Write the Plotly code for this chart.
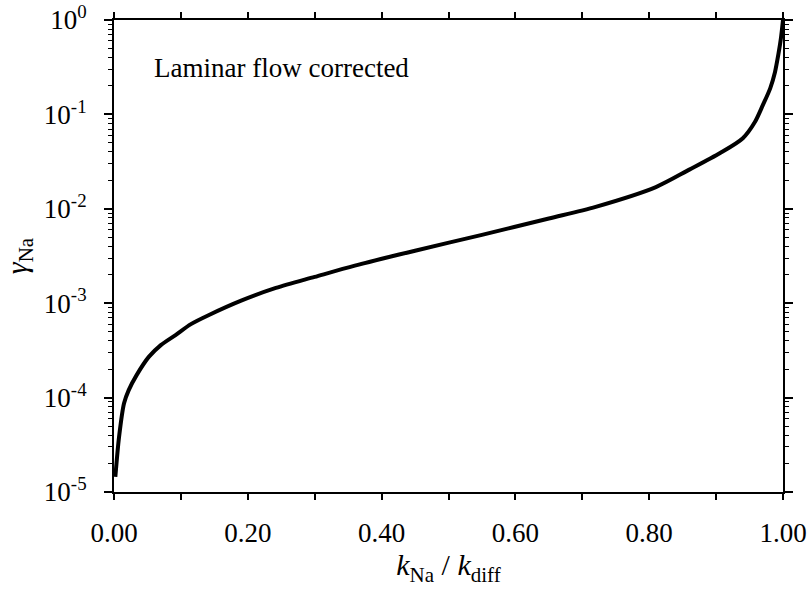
import plotly.graph_objects as go

# Data
k_ratio = [0.002, 0.0075, 0.015, 0.022, 0.034, 0.052, 0.07, 0.092, 0.115, 0.142,
           0.191, 0.242, 0.30, 0.36, 0.45, 0.55, 0.65, 0.72, 0.81, 0.86,
           0.906, 0.94, 0.958, 0.970, 0.981, 0.988, 0.993, 0.997, 1.0]
gamma_na = [1.45e-5, 3.8e-5, 8.7e-5, 1.2e-4, 1.74e-4, 2.7e-4, 3.6e-4, 4.6e-4, 6.0e-4, 7.5e-4,
            1.07e-3, 1.45e-3, 1.9e-3, 2.5e-3, 3.6e-3, 5.3e-3, 7.9e-3, 1.05e-2, 1.7e-2, 2.6e-2,
            3.9e-2, 5.6e-2, 8.3e-2, 0.126, 0.19, 0.28, 0.43, 0.65, 1.0]

x_tickvals = [0.0, 0.2, 0.4, 0.6, 0.8, 1.0]
x_ticktext = ["0.00", "0.20", "0.40", "0.60", "0.80", "1.00"]
x_minor = [0.1, 0.3, 0.5, 0.7, 0.9]

y_tickvals = [1e-5, 1e-4, 1e-3, 1e-2, 1e-1, 1e0]
y_ticktext = ["10<sup>-5</sup>", "10<sup>-4</sup>", "10<sup>-3</sup>",
              "10<sup>-2</sup>", "10<sup>-1</sup>", "10<sup>0</sup>"]
y_minor = [m * 10.0 ** e for e in range(-5, 0) for m in range(2, 10)]

FONT = "Liberation Serif, Times New Roman, serif"

fig = go.Figure()
fig.add_trace(go.Scatter(x=k_ratio, y=gamma_na, mode="lines",
                         line=dict(color="black", width=4, shape="spline", smoothing=0.8),
                         showlegend=False))

fig.update_layout(
    width=810, height=592,
    margin=dict(l=114, r=27, t=20, b=100, autoexpand=False),
    paper_bgcolor="white", plot_bgcolor="white",
    font=dict(family=FONT, color="black", size=26),
    showlegend=False,
)

fig.update_xaxes(
    range=[0, 1], showgrid=False, zeroline=False, automargin=False,
    showline=True, linecolor="black", linewidth=2, mirror="ticks",
    tickmode="array", tickvals=x_tickvals, ticktext=x_ticktext,
    ticks="outside", ticklen=6, tickwidth=1.5, tickcolor="black",
    minor=dict(tickmode="array", tickvals=x_minor, ticks="outside", ticklen=6,
               tickwidth=1.5, tickcolor="black", showgrid=False),
    tickfont=dict(family=FONT, size=27, color="black"),
    ticklabelstandoff=10, ticklabeloverflow="allow",
    title=dict(text="<i>k</i><sub>Na</sub> / <i>k</i><sub>diff</sub>",
               font=dict(family=FONT, size=30, color="black"), standoff=4),
)

fig.update_yaxes(
    type="log", range=[-5, 0], showgrid=False, zeroline=False, automargin=False,
    showline=True, linecolor="black", linewidth=2, mirror="ticks",
    tickmode="array", tickvals=y_tickvals, ticktext=y_ticktext,
    ticks="outside", ticklen=8, tickwidth=1.5, tickcolor="black",
    minor=dict(tickmode="array", tickvals=y_minor, ticks="outside", ticklen=4,
               tickwidth=1, tickcolor="black", showgrid=False),
    tickfont=dict(family=FONT, size=27, color="black"),
    ticklabelstandoff=12, ticklabeloverflow="allow",
    title=dict(text="<i>γ</i><sub>Na</sub>",
               font=dict(family=FONT, size=30, color="black"), standoff=10),
)

fig.add_annotation(
    text="Laminar flow corrected", xref="paper", yref="paper",
    x=0.057, y=0.898, xanchor="left", yanchor="middle", showarrow=False,
    font=dict(family=FONT, size=27, color="black"),
)

fig.write_html("out.html",
               config={"displayModeBar": False},
               post_script="document.body.style.margin='0';document.body.style.overflow='hidden';")
